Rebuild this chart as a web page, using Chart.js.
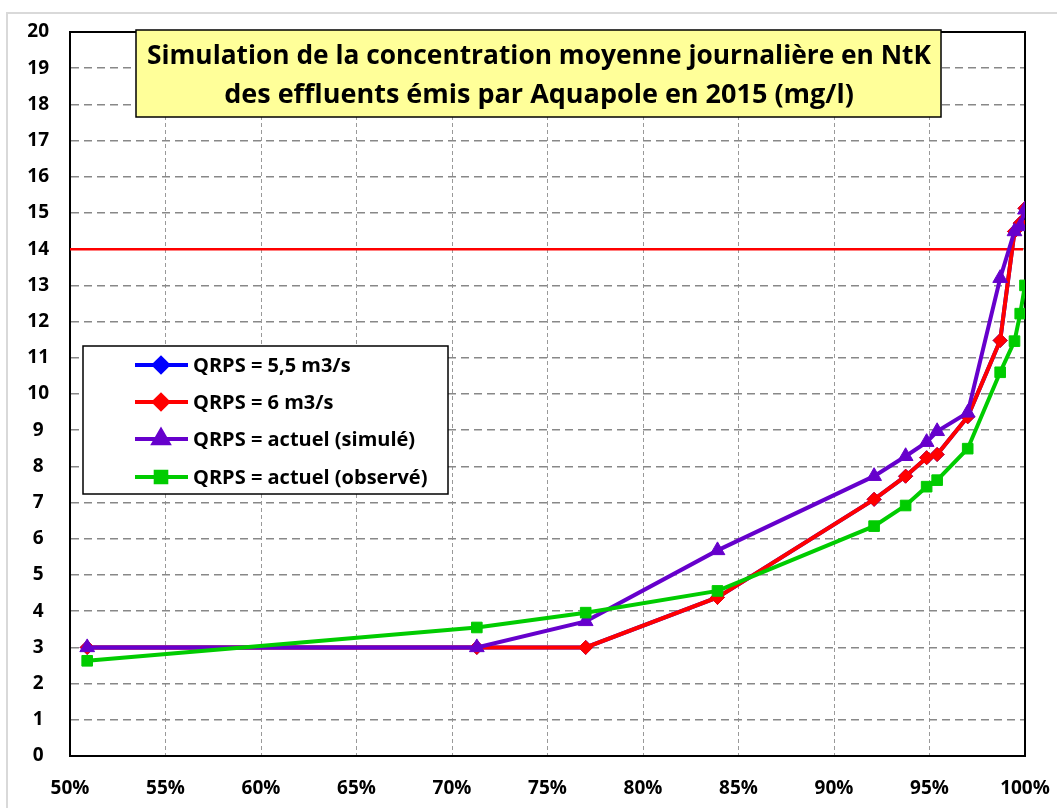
<!DOCTYPE html>
<html>
<head>
<meta charset="utf-8">
<title>NtK Aquapole 2015</title>
<script src="https://cdn.jsdelivr.net/npm/chart.js@4.4.0/dist/chart.umd.min.js"></script>
<style>
    html, body { margin: 0; padding: 0; background: #fff; }
    #wrap { width: 1057px; height: 808px; position: relative; }
</style>
</head>
<body>
<div id="wrap"><canvas id="chart" width="1057" height="808"></canvas></div>
<script>
// fréquence cumulée (%) - commune aux 4 séries
const frequences = [50.9, 71.3, 77.0, 83.9, 92.1, 93.75, 94.85, 95.4, 97.0, 98.7, 99.45, 99.75, 100];

const qrps55 = [3.0, 3.0, 3.0, 4.38, 7.09, 7.73, 8.24, 8.33, 9.37, 11.48, 14.49, 14.72, 15.13];
const qrps6 = [3.0, 3.0, 3.0, 4.38, 7.09, 7.73, 8.24, 8.33, 9.37, 11.48, 14.49, 14.72, 15.13];
const actuelSimule = [3.0, 3.0, 3.72, 5.68, 7.73, 8.28, 8.67, 8.97, 9.48, 13.2, 14.49, 14.63, 15.09];
const actuelObserve = [2.63, 3.55, 3.96, 4.56, 6.35, 6.92, 7.44, 7.62, 8.49, 10.6, 11.46, 12.22, 13.0];

const seuil = 14;
const xTicks = [50, 55, 60, 65, 70, 75, 80, 85, 90, 95, 100];
const yTicks = [0, 1, 2, 3, 4, 5, 6, 7, 8, 9, 10, 11, 12, 13, 14, 15, 16, 17, 18, 19, 20];

const titre = [
    'Simulation de la concentration moyenne journalière en NtK',
    'des effluents émis par Aquapole en 2015 (mg/l)'
];

const FONT = '"Open Sans", "Liberation Sans", sans-serif';

const toPoints = (ys) => frequences.map((x, i) => ({ x: x, y: ys[i] }));

function serie(label, ys, color, style, radius, order) {
    return {
        label: label,
        data: toPoints(ys),
        borderColor: color,
        backgroundColor: color,
        borderWidth: 4,
        pointStyle: style,
        pointRadius: radius,
        pointBackgroundColor: color,
        pointBorderColor: color,
        pointBorderWidth: 1,
        tension: 0,
        order: order
    };
}

// texte compressé horizontalement pour imiter une police étroite
function fillFit(ctx, text, x, y, maxWidth) {
    const w = ctx.measureText(text).width;
    const k = w > maxWidth ? maxWidth / w : 1;
    ctx.save();
    ctx.translate(x, y);
    ctx.scale(k, 1);
    ctx.fillText(text, 0, 0);
    ctx.restore();
}

const decor = {
    id: 'decor',
    beforeDraw(chart) {
        const ctx = chart.ctx;
        ctx.save();
        ctx.fillStyle = '#fff';
        ctx.fillRect(0, 0, chart.width, chart.height);
        ctx.strokeStyle = '#d9d9d9';
        ctx.lineWidth = 2;
        ctx.beginPath();
        ctx.moveTo(7, chart.height);
        ctx.lineTo(7, 13);
        ctx.lineTo(chart.width, 13);
        ctx.stroke();
        ctx.restore();
    },
    beforeDatasetsDraw(chart) {
        const a = chart.chartArea;
        const ctx = chart.ctx;
        ctx.save();
        ctx.strokeStyle = '#000';
        ctx.lineWidth = 2;
        ctx.strokeRect(a.left, a.top, a.right - a.left, a.bottom - a.top);
        ctx.restore();
    },
    afterDraw(chart) {
        const ctx = chart.ctx;
        ctx.save();

        // cadre du titre
        ctx.fillStyle = '#ffff99';
        ctx.fillRect(136, 30, 805, 87);
        ctx.strokeStyle = '#000';
        ctx.lineWidth = 1.5;
        ctx.strokeRect(136, 30, 805, 87);
        ctx.fillStyle = '#000';
        ctx.font = 'bold 27px ' + FONT;
        ctx.textAlign = 'center';
        ctx.textBaseline = 'middle';
        fillFit(ctx, titre[0], 539, 56, 784);
        fillFit(ctx, titre[1], 539, 95, 634);

        // légende
        ctx.fillStyle = '#fff';
        ctx.fillRect(83, 346, 365, 148);
        ctx.strokeStyle = '#000';
        ctx.lineWidth = 1.5;
        ctx.strokeRect(83, 346, 365, 148);

        const rows = [365, 402, 439, 477];
        let r = 0;
        chart.data.datasets.forEach((ds) => {
            if (!ds.label) return;
            const y = rows[r++];
            ctx.strokeStyle = ds.borderColor;
            ctx.lineWidth = 4;
            ctx.beginPath();
            ctx.moveTo(135, y);
            ctx.lineTo(188, y);
            ctx.stroke();
            ctx.fillStyle = ds.pointBackgroundColor;
            Chart.helpers.drawPoint(ctx, {
                pointStyle: ds.pointStyle,
                radius: ds.pointRadius,
                rotation: 0,
                borderWidth: 1
            }, 161, y);
            ctx.fillStyle = '#000';
            ctx.font = 'bold 20px ' + FONT;
            ctx.textAlign = 'left';
            ctx.textBaseline = 'middle';
            fillFit(ctx, ds.label, 193, y + 1, 238);
        });
        ctx.restore();
    }
};

new Chart(document.getElementById('chart'), {
    type: 'line',
    data: {
        datasets: [
            serie('QRPS = 5,5 m3/s', qrps55, '#0000ff', 'rectRot', 7, 4),
            serie('QRPS = 6 m3/s', qrps6, '#ff0000', 'rectRot', 7, 3),
            serie('QRPS = actuel (simulé)', actuelSimule, '#6600cc', 'triangle', 8.5, 2),
            serie('QRPS = actuel (observé)', actuelObserve, '#00cc00', 'rect', 7.5, 1),
            {
                label: '',
                data: [{ x: 50, y: seuil }, { x: 99.9, y: seuil }],
                borderColor: '#ff0000',
                borderWidth: 2.5,
                pointRadius: 0,
                order: 10
            }
        ]
    },
    options: {
        responsive: false,
        animation: false,
        layout: {
            autoPadding: false,
            padding: { top: 32, right: 32, bottom: 0, left: 0 }
        },
        scales: {
            x: {
                type: 'linear',
                min: 50,
                max: 100,
                afterBuildTicks: (scale) => { scale.ticks = xTicks.map(v => ({ value: v })); },
                afterFit: (scale) => {
                    scale.height = 52;
                    scale.paddingLeft = 0;
                    scale.paddingRight = 0;
                },
                ticks: {
                    color: '#000',
                    padding: 21,
                    font: { family: FONT, size: 19, weight: 'bold' },
                    callback: (v) => v + '%'
                },
                grid: { color: '#999', lineWidth: 1, drawTicks: false },
                border: { display: true, color: '#000', width: 2, dash: [4, 3] }
            },
            y: {
                min: 0,
                max: 20,
                afterBuildTicks: (scale) => { scale.ticks = yTicks.map(v => ({ value: v })); },
                afterFit: (scale) => {
                    scale.width = 70;
                    scale.paddingTop = 0;
                    scale.paddingBottom = 0;
                },
                ticks: {
                    color: '#000',
                    padding: 21,
                    crossAlign: 'center',
                    font: { family: FONT, size: 19, weight: 'bold' }
                },
                grid: { color: '#888', lineWidth: 1.5, drawTicks: false },
                border: { display: true, color: '#000', width: 2, dash: [8, 5] }
            }
        },
        plugins: {
            legend: { display: false },
            tooltip: { enabled: false }
        }
    },
    plugins: [decor]
});
</script>
</body>
</html>
